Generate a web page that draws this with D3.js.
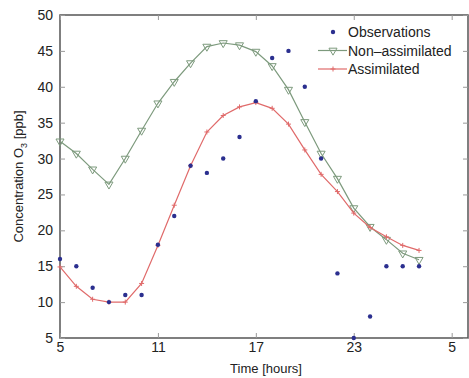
<!DOCTYPE html>
<html>
<head>
<meta charset="utf-8">
<script src="https://cdn.jsdelivr.net/npm/d3@7"></script>
<style>
  body { margin: 0; background: #fff; }
  svg { font-family: "Liberation Sans", Arial, sans-serif; }
</style>
</head>
<body>
<div id="chart"></div>
<script>
// hours of the day (continuing past midnight as 24+)
const hours = [5, 6, 7, 8, 9, 10, 11, 12, 13, 14, 15, 16, 17, 18, 19, 20, 21, 22, 23, 24, 25, 26, 27];
const observations = [16, 15, 12, 10, 11, 11, 18, 22, 29, 28, 30, 33, 38, 44, 45, 40, 30, 14, 5, 8, 15, 15, 15];
const nonAssimilated = [32.4, 30.7, 28.5, 26.4, 30, 33.9, 37.7, 40.7, 43.3, 45.6, 46.1, 45.8, 44.9, 42.9, 39.6, 35.1, 30.7, 27.2, 23.1, 20.5, 18.7, 16.8, 15.9];
const assimilated = [14.9, 12.2, 10.4, 10, 10, 12.6, 17.9, 23.5, 29, 33.7, 36, 37.2, 37.8, 37, 34.8, 31.2, 27.8, 25.4, 22.4, 20.4, 19.1, 17.9, 17.2];
const xTicks = [5, 11, 17, 23, 29];
const yTicks = [5, 10, 15, 20, 25, 30, 35, 40, 45, 50];

const width = 469, height = 378;
const margin = { left: 60, right: 1, top: 15, bottom: 40 };

const svg = d3.select("#chart").append("svg")
    .attr("width", width)
    .attr("height", height);

const x = d3.scaleLinear().domain([5, 30]).range([margin.left, width - margin.right]);
const y = d3.scaleLinear().domain([5, 50]).range([height - margin.bottom, margin.top]);

const axisColor = "#555";
const tickLen = 5;

// frame
svg.append("rect")
    .attr("x", x(5)).attr("y", y(50))
    .attr("width", x(30) - x(5)).attr("height", y(5) - y(50))
    .attr("fill", "none")
    .attr("stroke", axisColor)
    .attr("stroke-width", 1.5);

// inward ticks, MATLAB style (bottom/top/left/right)
const xAxisB = d3.axisBottom(x).tickValues(xTicks).tickSize(-tickLen).tickPadding(4)
    .tickFormat(d => d % 24);
const xAxisT = d3.axisTop(x).tickValues(xTicks).tickSize(-tickLen).tickFormat("");
const yAxisL = d3.axisLeft(y).tickValues(yTicks).tickSize(-tickLen).tickPadding(7);
const yAxisR = d3.axisRight(y).tickValues(yTicks).tickSize(-tickLen).tickFormat("");

function styleAxis(g) {
    g.select(".domain").remove();
    g.selectAll(".tick line").attr("stroke", "#999");
    g.selectAll(".tick text").attr("fill", "#222").style("font-size", "14px");
}

svg.append("g").attr("transform", `translate(0,${y(5)})`).call(xAxisB).call(styleAxis);
svg.append("g").attr("transform", `translate(0,${y(50)})`).call(xAxisT).call(styleAxis);
svg.append("g").attr("transform", `translate(${x(5)},0)`).call(yAxisL).call(styleAxis);
svg.append("g").attr("transform", `translate(${x(30)},0)`).call(yAxisR).call(styleAxis);

// axis labels
svg.append("text")
    .attr("x", (x(5) + x(30)) / 2 + 2)
    .attr("y", 373)
    .attr("text-anchor", "middle")
    .attr("fill", "#222")
    .style("font-size", "13px")
    .text("Time [hours]");

const yl = svg.append("text")
    .attr("transform", `translate(23,${(y(5) + y(50)) / 2}) rotate(-90)`)
    .attr("text-anchor", "middle")
    .attr("fill", "#222")
    .style("font-size", "13px");
yl.append("tspan").text("Concentration O");
yl.append("tspan").attr("dy", 4).style("font-size", "9px").text("3");
yl.append("tspan").attr("dy", -4).text(" [ppb]");

const green = "#7d9a7d";
const red = "#e06a6a";
const blue = "#2b2f8f";

const line = d3.line().x((d, i) => x(hours[i])).y(d => y(d));

// non-assimilated
svg.append("path")
    .datum(nonAssimilated)
    .attr("d", line)
    .attr("fill", "none")
    .attr("stroke", green)
    .attr("stroke-width", 1.2);

const tri = d3.symbol().type(d3.symbolTriangle).size(28);
svg.selectAll(".tri")
    .data(nonAssimilated)
    .enter().append("path")
    .attr("class", "tri")
    .attr("d", tri)
    .attr("transform", (d, i) => `translate(${x(hours[i])},${y(d)}) rotate(180)`)
    .attr("fill", "none")
    .attr("stroke", green)
    .attr("stroke-width", 1);

// assimilated
svg.append("path")
    .datum(assimilated)
    .attr("d", line)
    .attr("fill", "none")
    .attr("stroke", red)
    .attr("stroke-width", 1.2);

svg.selectAll(".plus")
    .data(assimilated)
    .enter().append("path")
    .attr("class", "plus")
    .attr("d", "M-2.5,0H2.5M0,-2.5V2.5")
    .attr("transform", (d, i) => `translate(${x(hours[i])},${y(d)})`)
    .attr("stroke", red)
    .attr("stroke-width", 1);

// observations
svg.selectAll(".obs")
    .data(observations)
    .enter().append("circle")
    .attr("class", "obs")
    .attr("cx", (d, i) => x(hours[i]))
    .attr("cy", d => y(d))
    .attr("r", 2.2)
    .attr("fill", blue);

// legend
const legend = svg.append("g").attr("transform", "translate(318,32)");
const items = [
    { label: "Observations", kind: "obs" },
    { label: "Non\u2013assimilated", kind: "non" },
    { label: "Assimilated", kind: "ass" }
];
items.forEach((it, i) => {
    const g = legend.append("g").attr("transform", `translate(0,${i * 18.5})`);
    if (it.kind === "obs") {
        g.append("circle").attr("cx", 15).attr("cy", 0).attr("r", 2.2).attr("fill", blue);
    } else {
        const c = it.kind === "non" ? green : red;
        g.append("line").attr("x1", 0).attr("x2", 29).attr("y1", 0).attr("y2", 0)
            .attr("stroke", c).attr("stroke-width", 1.2);
        if (it.kind === "non") {
            g.append("path").attr("d", tri).attr("transform", "translate(15,0) rotate(180)")
                .attr("fill", "none").attr("stroke", c);
        } else {
            g.append("path").attr("d", "M-2.5,0H2.5M0,-2.5V2.5")
                .attr("transform", "translate(15,0)").attr("stroke", c);
        }
    }
    g.append("text")
        .attr("x", 30)
        .attr("y", 5)
        .attr("fill", "#222")
        .style("font-size", "14px")
        .text(it.label);
});
</script>
</body>
</html>
